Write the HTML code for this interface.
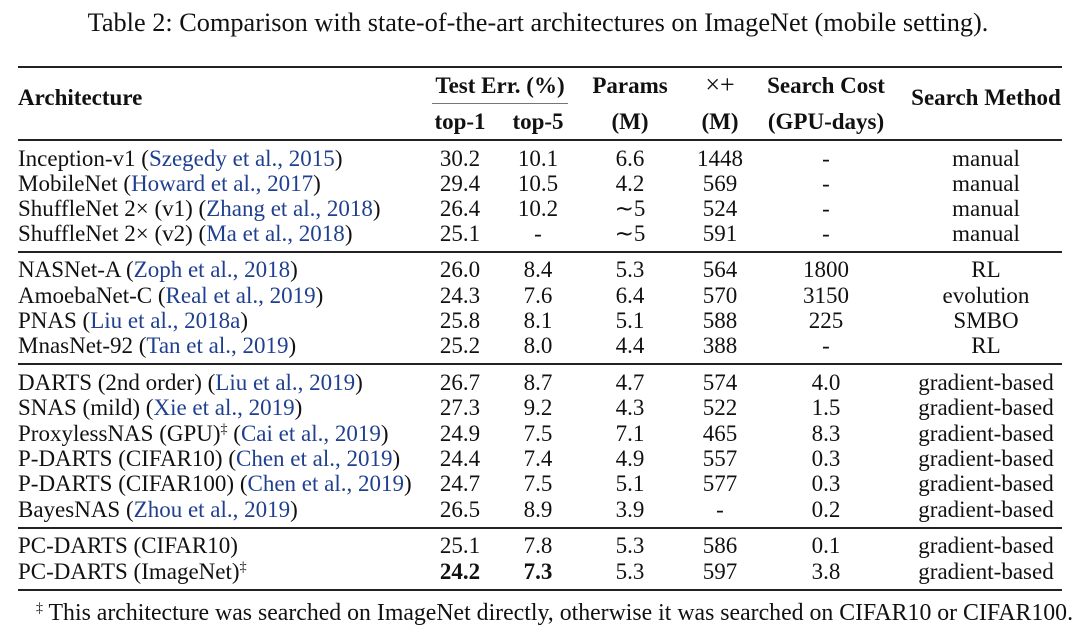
<!DOCTYPE html>
<html><head><meta charset="utf-8"><style>
body{margin:0;width:1080px;height:640px;background:#fff;position:relative;overflow:hidden;font-family:"Liberation Serif",serif;color:#111;}
.t{position:absolute;font-size:23px;line-height:24px;white-space:nowrap;}
.c{transform:translateX(-50%);}
.b{font-weight:bold;}
.cite{color:#1f3f8f;}
sup{font-size:14px;line-height:0;vertical-align:8px;}
.rule{position:absolute;left:18px;width:1044px;background:#222;}
</style></head><body>
<div class="t c" style="left:538px;top:9px;font-size:26.3px;line-height:28px;">Table 2: Comparison with state-of-the-art architectures on ImageNet (mobile setting).</div>
<div class="rule" style="top:66px;height:2px"></div>
<div class="rule" style="top:139px;height:1.5px"></div>
<div class="rule" style="top:251px;height:1.5px"></div>
<div class="rule" style="top:363px;height:1.5px"></div>
<div class="rule" style="top:527px;height:1.5px"></div>
<div class="rule" style="top:589px;height:2px"></div>
<div style="position:absolute;left:432px;width:136px;top:103px;height:1px;background:#777"></div>
<div class="t b" style="left:18px;top:86px">Architecture</div>
<div class="t b c" style="left:500px;top:74px">Test Err. (%)</div>
<div class="t b c" style="left:460px;top:110px">top-1</div>
<div class="t b c" style="left:538px;top:110px">top-5</div>
<div class="t b c" style="left:630px;top:74px">Params</div>
<div class="t b c" style="left:630px;top:110px">(M)</div>
<div class="t c" style="left:720px;top:73px;font-size:26px">×+</div>
<div class="t b c" style="left:720px;top:110px">(M)</div>
<div class="t b c" style="left:826px;top:74px">Search Cost</div>
<div class="t b c" style="left:826px;top:110px">(GPU-days)</div>
<div class="t b c" style="left:986px;top:86px">Search Method</div>
<div id="rows"></div>
<div class="t" style="left:36px;top:601px;font-size:23.8px"><sup>‡</sup> This architecture was searched on ImageNet directly, otherwise it was searched on CIFAR10 or CIFAR100.</div>
<script>
const names=["Inception-v1 ","MobileNet ","ShuffleNet 2× (v1) ","ShuffleNet 2× (v2) ","NASNet-A ","AmoebaNet-C ","PNAS ","MnasNet-92 ","DARTS (2nd order) ","SNAS (mild) ","ProxylessNAS (GPU)<sup>‡</sup> ","P-DARTS (CIFAR10) ","P-DARTS (CIFAR100) ","BayesNAS ","PC-DARTS (CIFAR10)","PC-DARTS (ImageNet)<sup>‡</sup>"];
const cites=["Szegedy et al., 2015","Howard et al., 2017","Zhang et al., 2018","Ma et al., 2018","Zoph et al., 2018","Real et al., 2019","Liu et al., 2018a","Tan et al., 2019","Liu et al., 2019","Xie et al., 2019","Cai et al., 2019","Chen et al., 2019","Chen et al., 2019","Zhou et al., 2019","",""];
const top1=["30.2","29.4","26.4","25.1","26.0","24.3","25.8","25.2","26.7","27.3","24.9","24.4","24.7","26.5","25.1","<b>24.2</b>"];
const top5=["10.1","10.5","10.2","-","8.4","7.6","8.1","8.0","8.7","9.2","7.5","7.4","7.5","8.9","7.8","<b>7.3</b>"];
const params=["6.6","4.2","∼5","∼5","5.3","6.4","5.1","4.4","4.7","4.3","7.1","4.9","5.1","3.9","5.3","5.3"];
const madds=["1448","569","524","591","564","570","588","388","574","522","465","557","577","-","586","597"];
const cost=["-","-","-","-","1800","3150","225","-","4.0","1.5","8.3","0.3","0.3","0.2","0.1","3.8"];
const method=["manual","manual","manual","manual","RL","evolution","SMBO","RL","gradient-based","gradient-based","gradient-based","gradient-based","gradient-based","gradient-based","gradient-based","gradient-based"];
const ys=[159,184,209,234,270,296,321,346,383,408,434,459,484,510,546,572];
const R=document.getElementById('rows');
function cell(html,x,y,center,name){const d=document.createElement('div');d.className='t'+(center?' c':'');d.style.left=x+'px';d.style.top=(y-12)+'px';d.innerHTML=html;


R.appendChild(d);}
for(let i=0;i<names.length;i++){const y=ys[i];
const a=names[i]+(cites[i]?'(<span class="cite">'+cites[i]+'</span>)':'');
cell(a,18,y,false,'architecture-name');
cell(top1[i],460,y,true,'top1-error');
cell(top5[i],538,y,true,'top5-error');
cell(params[i],630,y,true,'params-value');
cell(madds[i],720,y,true,'multadds-value');
cell(cost[i],826,y,true,'search-cost-value');
cell(method[i],986,y,true,'search-method-value');}
</script>
</body></html>
